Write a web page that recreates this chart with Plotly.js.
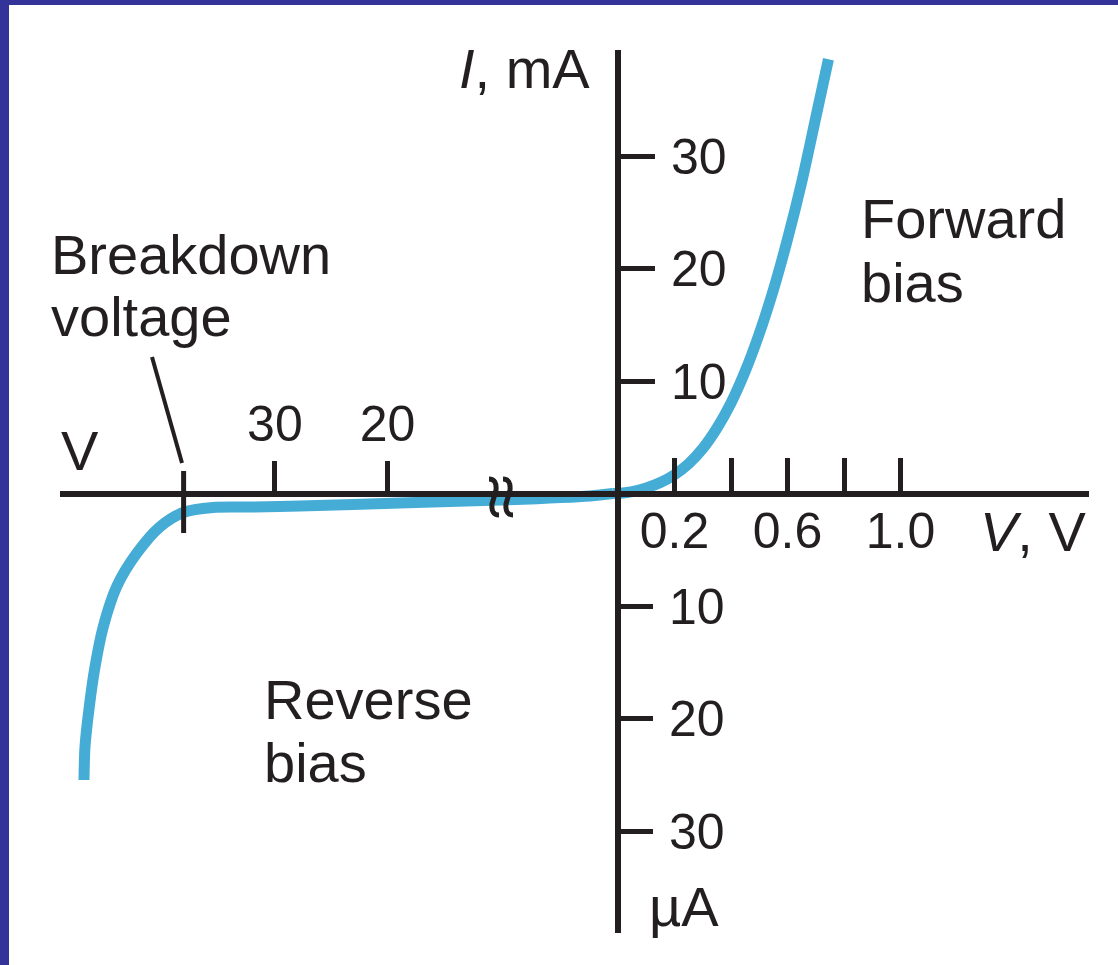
<!DOCTYPE html>
<html><head><meta charset="utf-8">
<script src="https://cdn.plot.ly/plotly-3.0.1.min.js"></script>
<style>html,body{margin:0;padding:0;background:#fff;}#chart{width:1118px;height:965px;}</style>
</head><body><div id="chart"></div>
<script>
// ---- data ----
// Forward bias: voltage (V) and current (mA)
const fwdV = [-0.02, 0, 0.05, 0.1, 0.15, 0.2, 0.25, 0.3, 0.35, 0.4, 0.45, 0.5, 0.55, 0.6, 0.65, 0.7, 0.745];
const fwdI = [0, 0, 0.16, 0.49, 0.97, 1.67, 2.65, 4.0, 5.8, 8.05, 10.85, 14.2, 18.1, 22.6, 27.65, 33.4, 38.6];
// Reverse bias: voltage (V) and current (µA)
const revV = [0, -2.04, -10.0, -18.9, -27.8, -32.2, -35.5, -38.13, -40.19, -42.26, -44.04, -45.23, -45.96, -46.47, -46.85, -46.94];
const revI = [0, -0.22, -0.58, -0.84, -1.11, -1.2, -1.24, -1.69, -2.95, -5.32, -8.28, -11.84, -15.40, -18.95, -22.51, -25.47];
// Tick values / labels
const fwdTickV = [0.2, 0.4, 0.6, 0.8, 1.0];
const fwdTickT = ['0.2', '', '0.6', '', '1.0'];
const revTickV = [-30, -20];
const revTickT = ['30', '20'];
const mATickV = [10, 20, 30];
const mATickT = ['10', '20', '30'];
const uATickV = [-10, -20, -30];
const uATickT = ['10', '20', '30'];
const breakdownV = -38.1;

// ---- geometry (pixels) ----
const W = 1118, H = 965;
const AX_L = 60, AX_R = 1089, AX_T = 50, AX_B = 933;
const OX = 618, OY = 493.5, OX_REV = 613;
const PX_PER_V = 282.5, PX_PER_VREV = 11.27, PX_PER_I = 11.25;
const P = x => x / W, Q = y => 1 - y / H;

const ink = '#231f20', blue = '#45acd6';
const FONT = 'Liberation Sans, Arial, Helvetica, sans-serif';
const numFont = {family: FONT, size: 50, color: ink};
const wordSize = 56;

const xdom = [P(AX_L), P(AX_R)];
const ydom = [Q(AX_B), Q(AX_T)];
const xr = [(AX_L - OX) / PX_PER_V, (AX_R - OX) / PX_PER_V];
const xr2 = [(AX_L - OX_REV) / PX_PER_VREV, (AX_R - OX_REV) / PX_PER_VREV];
const yr = [(OY - AX_B) / PX_PER_I, (OY - AX_T) / PX_PER_I];

const traces = [
  {x: revV, y: revI, xaxis: 'x2', yaxis: 'y2', mode: 'lines', line: {color: blue, width: 11, shape: 'spline', smoothing: 0.8}, hoverinfo: 'skip'},
  {x: fwdV, y: fwdI, xaxis: 'x', yaxis: 'y', mode: 'lines', line: {color: blue, width: 11, shape: 'spline', smoothing: 0.8}, hoverinfo: 'skip'}
];

const baseAx = {showgrid: false, zeroline: false, fixedrange: true, tickcolor: ink, tickwidth: 5, tickfont: numFont, layer: 'above traces'};

const sPath = 'M -5,18 Q 3,18 2,7 L -2,-7 Q -3,-18 5,-18';

const shapes = [
  // frame
  {type: 'rect', xref: 'paper', yref: 'paper', x0: 0, x1: P(9), y0: 0, y1: 1, fillcolor: '#333399', line: {width: 0}, layer: 'above'},
  {type: 'rect', xref: 'paper', yref: 'paper', x0: 0, x1: 1, y0: Q(5), y1: 1, fillcolor: '#333399', line: {width: 0}, layer: 'above'},
  // breakdown tick
  {type: 'line', xref: 'x2', yref: 'paper', x0: breakdownV, x1: breakdownV, y0: Q(471), y1: Q(533), line: {color: ink, width: 5}, layer: 'above'},
  // pointer
  {type: 'line', xref: 'paper', yref: 'paper', x0: P(152), y0: Q(357), x1: P(182), y1: Q(463), line: {color: ink, width: 4}, layer: 'above'},
  // axis break marks
  {type: 'path', xref: 'paper', yref: 'paper', xsizemode: 'pixel', ysizemode: 'pixel', xanchor: P(494), yanchor: Q(497), path: sPath, line: {color: ink, width: 5}, layer: 'above'},
  {type: 'path', xref: 'paper', yref: 'paper', xsizemode: 'pixel', ysizemode: 'pixel', xanchor: P(508), yanchor: Q(497), path: sPath, line: {color: ink, width: 5}, layer: 'above'}
];

function word(text, x, y, anchor) {
  return {text: text, xref: 'paper', yref: 'paper', x: P(x), y: Q(y), xanchor: anchor || 'left', yanchor: 'middle', showarrow: false, font: {family: FONT, size: wordSize, color: ink}};
}
const annotations = [
  word('Breakdown', 49, 254),
  word('voltage', 49, 316),
  word('Forward', 859, 219),
  word('bias', 859, 282),
  word('Reverse', 262, 699),
  word('bias', 262, 762),
  word('V', 80, 450, 'center'),
  word('<i>I</i>, mA', 592, 69, 'right'),
  word('<i>V</i>, V', 1088, 531, 'right'),
  word('µA', 647, 906)
];

const layout = {
  width: W, height: H,
  margin: {l: 0, r: 0, t: 0, b: 0, pad: 0},
  paper_bgcolor: '#fff', plot_bgcolor: 'rgba(0,0,0,0)',
  showlegend: false,
  xaxis: Object.assign({}, baseAx, {domain: xdom, range: xr, anchor: 'free', position: Q(OY), side: 'bottom',
    showline: true, linecolor: ink, linewidth: 6, ticks: 'inside', ticklen: 33, ticklabelstandoff: -9,
    tickmode: 'array', tickvals: fwdTickV, ticktext: fwdTickT}),
  xaxis2: Object.assign({}, baseAx, {domain: xdom, range: xr2, overlaying: 'x', anchor: 'free', position: Q(OY), side: 'top',
    showline: false, ticks: 'outside', ticklen: 33,
    tickmode: 'array', tickvals: revTickV, ticktext: revTickT}),
  yaxis: Object.assign({}, baseAx, {domain: ydom, range: yr, anchor: 'free', position: P(OX), side: 'right',
    showline: true, linecolor: ink, linewidth: 6, ticks: 'outside', ticklen: 34, ticklabelstandoff: 6,
    tickmode: 'array', tickvals: mATickV, ticktext: mATickT}),
  yaxis2: Object.assign({}, baseAx, {domain: ydom, range: yr, overlaying: 'y', anchor: 'free', position: P(OX), side: 'right',
    showline: false, ticks: 'outside', ticklen: 34, ticklabelstandoff: 6,
    tickmode: 'array', tickvals: uATickV, ticktext: uATickT}),
  shapes: shapes,
  annotations: annotations
};

Plotly.newPlot('chart', traces, layout, {displayModeBar: false, staticPlot: true});
</script></body></html>
